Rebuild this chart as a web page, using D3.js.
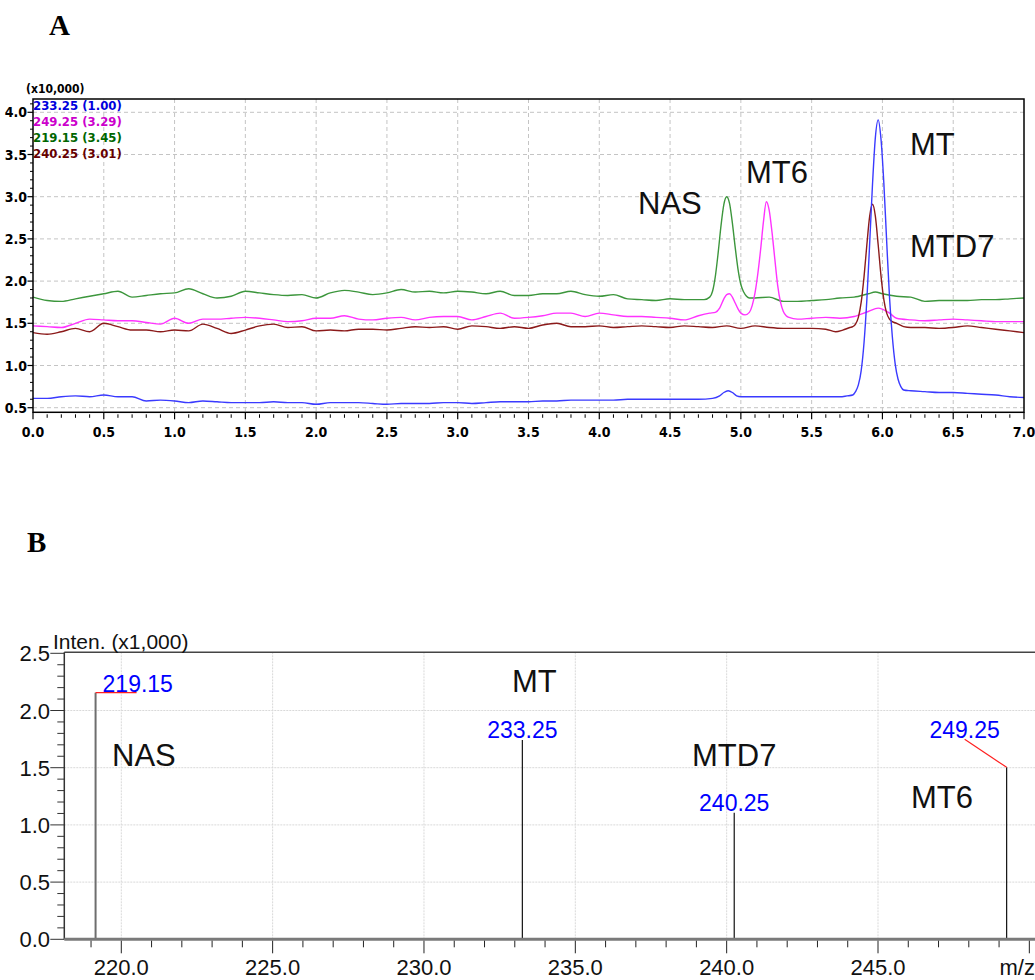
<!DOCTYPE html>
<html>
<head>
<meta charset="utf-8">
<script src="https://cdn.jsdelivr.net/npm/d3@7"></script>
<style>
  html, body { margin: 0; padding: 0; background: #fff; }
  svg { display: block; }
  .narrow { font-family: "Liberation Sans Narrow", "Arial Narrow", "DejaVu Sans Condensed", sans-serif; font-weight: bold; font-stretch: condensed; }
  .sans { font-family: "Liberation Sans", Arial, sans-serif; }
  .serif { font-family: "Liberation Serif", "Times New Roman", serif; font-weight: bold; }
</style>
</head>
<body>
<script>
// ---------- Panel A: extracted ion chromatograms (retention time in min, intensity x10,000) ----------
const rtTicks = [0.0, 0.5, 1.0, 1.5, 2.0, 2.5, 3.0, 3.5, 4.0, 4.5, 5.0, 5.5, 6.0, 6.5, 7.0];
const intensityTicksA = [0.5, 1.0, 1.5, 2.0, 2.5, 3.0, 3.5, 4.0];
const channelLabels = ["233.25 (1.00)", "249.25 (3.29)", "219.15 (3.45)", "240.25 (3.01)"];

// m/z 233.25 (MT)
const traceMT = [[0.0,0.61],[0.1,0.61],[0.2,0.63],[0.3,0.64],[0.4,0.63],[0.5,0.65],[0.6,0.63],[0.7,0.63],[0.8,0.58],[0.9,0.59],
  [1.0,0.58],[1.1,0.56],[1.2,0.58],[1.3,0.57],[1.4,0.56],[1.5,0.56],[1.6,0.56],[1.7,0.57],[1.8,0.56],[1.9,0.56],
  [2.0,0.54],[2.1,0.56],[2.2,0.56],[2.3,0.56],[2.4,0.55],[2.5,0.54],[2.6,0.55],[2.7,0.55],[2.8,0.55],[2.9,0.56],
  [3.0,0.56],[3.1,0.55],[3.2,0.56],[3.3,0.57],[3.4,0.57],[3.5,0.57],[3.6,0.58],[3.7,0.58],[3.8,0.59],[3.9,0.59],
  [4.0,0.59],[4.1,0.59],[4.2,0.60],[4.3,0.60],[4.4,0.60],[4.5,0.60],[4.6,0.60],[4.7,0.60],[4.8,0.61],[4.85,0.64],
  [4.88,0.68],[4.91,0.70],[4.94,0.68],[4.97,0.64],[5.0,0.63],[5.2,0.63],[5.4,0.63],[5.6,0.63],[5.7,0.63],[5.75,0.64],
  [5.79,0.65],[5.81,0.69],[5.83,0.77],[5.85,0.94],[5.87,1.27],[5.89,1.78],[5.91,2.45],[5.93,3.15],[5.95,3.70],[5.97,3.91],
  [5.99,3.68],[6.01,3.16],[6.03,2.47],[6.05,1.81],[6.07,1.34],[6.09,1.02],[6.11,0.84],[6.13,0.75],[6.15,0.71],[6.2,0.70],
  [6.3,0.69],[6.4,0.68],[6.5,0.68],[6.6,0.67],[6.7,0.66],[6.8,0.65],[6.9,0.63],[7.0,0.62]];

// m/z 249.25 (MT6)
const traceMT6 = [[0.0,1.47],[0.1,1.46],[0.2,1.45],[0.3,1.50],[0.4,1.55],[0.5,1.54],[0.6,1.53],[0.7,1.53],[0.8,1.51],[0.9,1.49],
  [1.0,1.56],[1.1,1.50],[1.2,1.55],[1.3,1.55],[1.4,1.56],[1.5,1.57],[1.6,1.56],[1.7,1.54],[1.8,1.52],[1.9,1.53],
  [2.0,1.56],[2.1,1.56],[2.2,1.59],[2.3,1.55],[2.4,1.54],[2.5,1.56],[2.6,1.57],[2.7,1.54],[2.8,1.57],[2.9,1.58],
  [3.0,1.58],[3.1,1.54],[3.2,1.58],[3.3,1.62],[3.4,1.56],[3.5,1.57],[3.6,1.59],[3.7,1.62],[3.8,1.62],[3.9,1.58],
  [4.0,1.62],[4.1,1.60],[4.2,1.58],[4.3,1.58],[4.4,1.57],[4.5,1.56],[4.6,1.54],[4.7,1.59],[4.78,1.62],[4.82,1.63],
  [4.85,1.68],[4.88,1.79],[4.90,1.84],[4.92,1.85],[4.94,1.81],[4.96,1.74],[4.98,1.67],[5.00,1.62],[5.03,1.60],[5.06,1.63],
  [5.08,1.71],[5.10,1.86],[5.12,2.09],[5.14,2.38],[5.16,2.71],[5.18,2.94],[5.20,2.84],[5.22,2.58],[5.24,2.26],[5.26,1.95],
  [5.28,1.75],[5.30,1.64],[5.32,1.59],[5.34,1.57],[5.4,1.55],[5.5,1.56],[5.6,1.57],[5.7,1.56],[5.8,1.58],[5.9,1.64],
  [5.97,1.68],[6.05,1.62],[6.1,1.56],[6.2,1.54],[6.3,1.53],[6.4,1.54],[6.5,1.55],[6.6,1.54],[6.7,1.53],[6.8,1.52],
  [6.9,1.52],[7.0,1.52]];

// m/z 219.15 (NAS)
const traceNAS = [[0.0,1.81],[0.1,1.77],[0.2,1.76],[0.3,1.79],[0.4,1.82],[0.5,1.85],[0.6,1.88],[0.7,1.81],[0.8,1.83],[0.9,1.85],
  [1.0,1.86],[1.1,1.91],[1.2,1.85],[1.3,1.80],[1.4,1.82],[1.5,1.88],[1.6,1.86],[1.7,1.84],[1.8,1.83],[1.9,1.84],
  [2.0,1.80],[2.1,1.86],[2.2,1.89],[2.3,1.87],[2.4,1.84],[2.5,1.86],[2.6,1.90],[2.7,1.87],[2.8,1.88],[2.9,1.86],
  [3.0,1.88],[3.1,1.87],[3.2,1.85],[3.3,1.88],[3.4,1.83],[3.5,1.83],[3.6,1.85],[3.7,1.85],[3.8,1.88],[3.9,1.84],
  [4.0,1.82],[4.1,1.84],[4.2,1.79],[4.3,1.78],[4.4,1.77],[4.5,1.79],[4.6,1.78],[4.7,1.78],[4.74,1.78],[4.78,1.81],
  [4.80,1.88],[4.82,2.06],[4.84,2.34],[4.86,2.66],[4.88,2.91],[4.90,3.00],[4.92,2.92],[4.94,2.69],[4.96,2.40],[4.98,2.14],
  [5.00,1.96],[5.02,1.87],[5.04,1.82],[5.06,1.80],[5.1,1.80],[5.2,1.81],[5.3,1.76],[5.4,1.76],[5.5,1.77],[5.6,1.78],
  [5.7,1.80],[5.8,1.81],[5.9,1.85],[5.95,1.87],[6.0,1.85],[6.1,1.82],[6.2,1.81],[6.3,1.76],[6.4,1.77],[6.5,1.77],
  [6.6,1.77],[6.7,1.78],[6.8,1.78],[6.9,1.79],[7.0,1.80]];

// m/z 240.25 (MTD7)
const traceMTD7 = [[0.0,1.39],[0.1,1.37],[0.2,1.40],[0.3,1.44],[0.4,1.40],[0.5,1.50],[0.6,1.46],[0.7,1.42],[0.8,1.42],[0.9,1.40],
  [1.0,1.42],[1.1,1.41],[1.2,1.49],[1.3,1.44],[1.4,1.38],[1.5,1.42],[1.6,1.47],[1.7,1.49],[1.8,1.45],[1.9,1.46],
  [2.0,1.41],[2.1,1.42],[2.2,1.41],[2.3,1.43],[2.4,1.43],[2.5,1.42],[2.6,1.44],[2.7,1.46],[2.8,1.45],[2.9,1.46],
  [3.0,1.43],[3.1,1.47],[3.2,1.46],[3.3,1.44],[3.4,1.46],[3.5,1.44],[3.6,1.48],[3.7,1.50],[3.8,1.46],[3.9,1.46],
  [4.0,1.47],[4.1,1.45],[4.2,1.46],[4.3,1.47],[4.4,1.46],[4.5,1.45],[4.6,1.47],[4.7,1.46],[4.8,1.45],[4.9,1.47],
  [5.0,1.44],[5.1,1.47],[5.2,1.45],[5.3,1.44],[5.4,1.44],[5.5,1.44],[5.6,1.43],[5.67,1.40],[5.72,1.42],[5.77,1.45],
  [5.79,1.46],[5.81,1.49],[5.83,1.57],[5.85,1.75],[5.87,2.05],[5.89,2.43],[5.91,2.77],[5.93,2.91],[5.95,2.77],[5.97,2.43],
  [5.99,2.06],[6.01,1.78],[6.03,1.62],[6.05,1.55],[6.07,1.52],[6.1,1.50],[6.15,1.46],[6.2,1.45],[6.3,1.45],[6.4,1.44],
  [6.5,1.45],[6.6,1.47],[6.7,1.45],[6.8,1.43],[6.9,1.41],[7.0,1.39]];

// ---------- Panel B: mass spectrum (m/z, intensity x1,000) ----------
const mzTicks = [220.0, 225.0, 230.0, 235.0, 240.0, 245.0];
const intensityTicksB = [0.0, 0.5, 1.0, 1.5, 2.0, 2.5];
const peakMz = [219.15, 233.25, 240.25, 249.25];
const peakIntensity = [2.156, 1.742, 1.107, 1.503];
const compoundNames = ["NAS", "MT", "MTD7", "MT6"];

// ---------- drawing ----------
const W = 1035, H = 980;
const svg = d3.select("body").append("svg").attr("width", W).attr("height", H);
svg.append("rect").attr("width", W).attr("height", H).attr("fill", "#fff");

// Panel letters
svg.append("text").attr("class", "serif").attr("x", 49).attr("y", 35).attr("font-size", 29).text("A");
svg.append("text").attr("class", "serif").attr("x", 27).attr("y", 552).attr("font-size", 29).text("B");

/* ===== Panel A ===== */
const fA = { left: 33, right: 1024, top: 99, bottom: 412.3 };
const xA = d3.scaleLinear().domain([0, 7]).range([fA.left, fA.right]);
const yA = d3.scaleLinear().domain([0.5, 4.0]).range([407.7, 112.3]);
const gA = svg.append("g");

// dashed grid
gA.selectAll("line.vgrid").data(rtTicks.slice(1, -1)).join("line")
  .attr("x1", d => xA(d)).attr("x2", d => xA(d)).attr("y1", fA.top).attr("y2", fA.bottom)
  .attr("stroke", "#c4c4c4").attr("stroke-width", 1).attr("stroke-dasharray", "4,3");
gA.selectAll("line.hgrid").data(intensityTicksA).join("line")
  .attr("x1", fA.left).attr("x2", fA.right).attr("y1", d => yA(d)).attr("y2", d => yA(d))
  .attr("stroke", "#c4c4c4").attr("stroke-width", 1).attr("stroke-dasharray", "4,3");

// traces
gA.append("clipPath").attr("id", "clipA").append("rect")
  .attr("x", fA.left).attr("y", fA.top).attr("width", fA.right - fA.left).attr("height", fA.bottom - fA.top);
const lineA = d3.line().x(d => xA(d[0])).y(d => yA(d[1])).curve(d3.curveMonotoneX);
const traces = [
  { data: traceNAS, color: "#3c963c" },
  { data: traceMT6, color: "#ff33ff" },
  { data: traceMTD7, color: "#8b1a1a" },
  { data: traceMT, color: "#3a3aff" }
];
gA.append("g").attr("clip-path", "url(#clipA)").selectAll("path").data(traces).join("path")
  .attr("d", d => lineA(d.data)).attr("fill", "none")
  .attr("stroke", d => d.color).attr("stroke-width", 1.4).attr("stroke-linejoin", "round");

// frame
gA.append("rect").attr("x", fA.left).attr("y", fA.top)
  .attr("width", fA.right - fA.left).attr("height", fA.bottom - fA.top)
  .attr("fill", "none").attr("stroke", "#000").attr("stroke-width", 1.5);

// x axis ticks (minor every 0.1 min)
const minorRt = d3.range(0, 71).map(i => i / 10).filter(t => Math.abs(t * 2 - Math.round(t * 2)) > 1e-6);
gA.selectAll("line.xminor").data(minorRt).join("line")
  .attr("x1", d => xA(d)).attr("x2", d => xA(d)).attr("y1", fA.bottom + 2).attr("y2", fA.bottom + 5.5)
  .attr("stroke", "#000").attr("stroke-width", 1);
gA.selectAll("line.xmajor").data(rtTicks).join("line")
  .attr("x1", d => xA(d)).attr("x2", d => xA(d)).attr("y1", fA.bottom).attr("y2", fA.bottom + 7)
  .attr("stroke", "#000").attr("stroke-width", 1.2);
gA.selectAll("text.xlab").data(rtTicks).join("text").attr("class", "narrow")
  .attr("x", d => xA(d)).attr("y", 437).attr("text-anchor", "middle").attr("font-size", 14)
  .text(d => d.toFixed(1));

// y axis ticks (minor every 0.1)
const minorIntA = d3.range(5, 42).map(i => i / 10).filter(v => Math.abs(v * 2 - Math.round(v * 2)) > 1e-6);
gA.selectAll("line.yminor").data(minorIntA).join("line")
  .attr("x1", fA.left - 3).attr("x2", fA.left).attr("y1", d => yA(d)).attr("y2", d => yA(d))
  .attr("stroke", "#000").attr("stroke-width", 1);
gA.selectAll("line.ymajor").data(intensityTicksA).join("line")
  .attr("x1", fA.left - 5.5).attr("x2", fA.left).attr("y1", d => yA(d)).attr("y2", d => yA(d))
  .attr("stroke", "#000").attr("stroke-width", 1.2);
gA.selectAll("text.ylab").data(intensityTicksA).join("text").attr("class", "narrow")
  .attr("x", 27).attr("y", d => yA(d) + 5).attr("text-anchor", "end").attr("font-size", 14)
  .text(d => d.toFixed(1));

// channel legend
gA.append("text").attr("class", "narrow").attr("x", 26).attr("y", 93).attr("font-size", 12).text("(x10,000)");
const legendColors = ["#0000dd", "#cc00cc", "#006600", "#660000"];
gA.selectAll("text.leg").data(channelLabels).join("text").attr("class", "narrow")
  .attr("x", 33).attr("y", (d, i) => 110 + i * 16).attr("font-size", 13)
  .attr("fill", (d, i) => legendColors[i]).text(d => d);

// compound labels
const labelsA = [
  { name: "NAS", x: 638, y: 214 },
  { name: "MT6", x: 746, y: 183 },
  { name: "MT", x: 910, y: 155 },
  { name: "MTD7", x: 910, y: 257 }
];
gA.selectAll("text.cmp").data(labelsA).join("text").attr("class", "sans")
  .attr("x", d => d.x).attr("y", d => d.y).attr("font-size", 31).attr("fill", "#111").text(d => d.name);

/* ===== Panel B ===== */
const fB = { left: 64.3, top: 652.3, bottom: 939.3 };
const xB = d3.scaleLinear().domain([220, 245]).range([121.3, 878]);
const yB = d3.scaleLinear().domain([0, 2.5]).range([fB.bottom, 653.3]);
const gB = svg.append("g");

// light grid
gB.selectAll("line.vgrid").data(mzTicks).join("line")
  .attr("x1", d => xB(d)).attr("x2", d => xB(d)).attr("y1", fB.top).attr("y2", fB.bottom)
  .attr("stroke", "#d9d9d9").attr("stroke-width", 1).attr("stroke-dasharray", "2,1");
gB.selectAll("line.hgrid").data(intensityTicksB.slice(1, -1)).join("line")
  .attr("x1", fB.left).attr("x2", W).attr("y1", d => yB(d)).attr("y2", d => yB(d))
  .attr("stroke", "#d9d9d9").attr("stroke-width", 1).attr("stroke-dasharray", "2,1");

// frame
gB.append("line").attr("x1", fB.left).attr("x2", W + 5).attr("y1", fB.top).attr("y2", fB.top)
  .attr("stroke", "#444").attr("stroke-width", 1.5);
gB.append("line").attr("x1", fB.left).attr("x2", fB.left).attr("y1", fB.top).attr("y2", fB.bottom)
  .attr("stroke", "#333").attr("stroke-width", 1.5);

// y ticks
const minorIntB = d3.range(0, 26).map(i => i / 10).filter(v => Math.abs(v * 2 - Math.round(v * 2)) > 1e-6);
gB.selectAll("line.yminor").data(minorIntB).join("line")
  .attr("x1", fB.left - 7).attr("x2", fB.left).attr("y1", d => yB(d)).attr("y2", d => yB(d))
  .attr("stroke", "#333").attr("stroke-width", 1);
gB.selectAll("line.ymajor").data(intensityTicksB).join("line")
  .attr("x1", fB.left - 14).attr("x2", fB.left).attr("y1", d => yB(d)).attr("y2", d => yB(d))
  .attr("stroke", "#333").attr("stroke-width", 1);
gB.selectAll("text.ylab").data(intensityTicksB).join("text").attr("class", "sans")
  .attr("x", 50).attr("y", d => yB(d) + 8).attr("text-anchor", "end").attr("font-size", 22).attr("fill", "#111")
  .text(d => d.toFixed(1));
gB.append("text").attr("class", "sans").attr("x", 53).attr("y", 649).attr("font-size", 21)
  .attr("fill", "#111").text("Inten. (x1,000)");

// x ticks (minor every 1 m/z)
const minorMz = d3.range(219, 251).filter(m => m % 5 !== 0);
const majorMz = d3.range(220, 251, 5);
gB.selectAll("line.xminor").data(minorMz).join("line")
  .attr("x1", d => xB(d)).attr("x2", d => xB(d)).attr("y1", fB.bottom + 1).attr("y2", fB.bottom + 8)
  .attr("stroke", "#222").attr("stroke-width", 1);
gB.selectAll("line.xmajor").data(majorMz).join("line")
  .attr("x1", d => xB(d)).attr("x2", d => xB(d)).attr("y1", fB.bottom + 1).attr("y2", fB.bottom + 14)
  .attr("stroke", "#222").attr("stroke-width", 1);
gB.selectAll("text.xlab").data(mzTicks).join("text").attr("class", "sans")
  .attr("x", d => xB(d)).attr("y", 975).attr("text-anchor", "middle").attr("font-size", 22).attr("fill", "#111")
  .text(d => d.toFixed(1));
gB.append("text").attr("class", "sans").attr("x", W).attr("y", 975).attr("text-anchor", "end")
  .attr("font-size", 22).attr("fill", "#111").text("m/z");

// spectrum peaks
const peaks = peakMz.map((m, i) => ({ mz: m, inten: peakIntensity[i] }));
gB.selectAll("line.peak").data(peaks).join("line")
  .attr("x1", d => xB(d.mz)).attr("x2", d => xB(d.mz)).attr("y1", fB.bottom).attr("y2", d => yB(d.inten))
  .attr("stroke", (d, i) => i === 0 ? "#6e6e6e" : "#111").attr("stroke-width", (d, i) => i === 0 ? 2 : 1.2);

// baseline axis bar
gB.append("line").attr("x1", fB.left).attr("x2", W + 5).attr("y1", fB.bottom).attr("y2", fB.bottom)
  .attr("stroke", "#7a7a7a").attr("stroke-width", 3);

// peak m/z labels with red leaders
const peakLabelLayout = [
  { dx: 7, dy: -1, anchor: "start", leader: [[0, 0], [41, 0]] },
  { dx: 0, dy: -2, anchor: "middle", leader: null },
  { dx: 0, dy: -2, anchor: "middle", leader: null },
  { dx: -42, dy: -29, anchor: "middle", leader: [[0, 0], [-42, -28]] }
];
peaks.forEach((p, i) => {
  const L = peakLabelLayout[i];
  const px = xB(p.mz), py = yB(p.inten);
  if (L.leader) {
    gB.append("line").attr("x1", px + L.leader[0][0]).attr("y1", py + L.leader[0][1])
      .attr("x2", px + L.leader[1][0]).attr("y2", py + L.leader[1][1])
      .attr("stroke", "#ff2020").attr("stroke-width", 1.2);
  }
  gB.append("text").attr("class", "sans").attr("x", px + L.dx).attr("y", py + L.dy)
    .attr("text-anchor", L.anchor).attr("font-size", 23).attr("fill", "#0000ff")
    .text(p.mz.toFixed(2));
});

// compound labels
const labelsB = [
  { name: compoundNames[0], x: 112, y: 766 },
  { name: compoundNames[1], x: 512, y: 692 },
  { name: compoundNames[2], x: 692, y: 766 },
  { name: compoundNames[3], x: 911, y: 808 }
];
gB.selectAll("text.cmp").data(labelsB).join("text").attr("class", "sans")
  .attr("x", d => d.x).attr("y", d => d.y).attr("font-size", 31).attr("fill", "#111").text(d => d.name);
</script>
</body>
</html>
